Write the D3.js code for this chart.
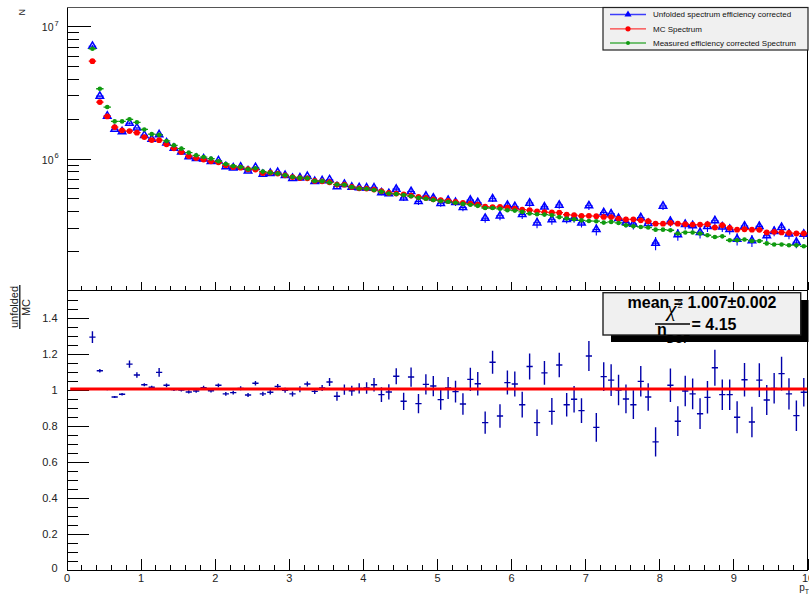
<!DOCTYPE html>
<html>
<head>
<meta charset="utf-8">
<script src="https://cdn.jsdelivr.net/npm/d3@7"></script>
<style>
  html, body { margin: 0; padding: 0; background: #fff; }
  svg { display: block; font-family: "Liberation Sans", Arial, Helvetica, sans-serif; }
</style>
</head>
<body>
<svg id="chart" width="809" height="597"></svg>
<script>
// ---- histogram binning (pT) ----
const binLow = 0.3;
const binWidth = 0.1;
const binCount = 97;

// ---- spectra (counts per bin) ----
const mcSpectrum = [
  5.445e6, 2.672e6, 2.084e6, 1.731e6, 1.635e6, 1.615e6, 1.571e6,
  1.455e6, 1.381e6, 1.378e6, 1.282e6, 1.196e6, 1.121e6, 1.046e6, 1.010e6, 9.83e5, 9.54e5,
  9.38e5, 8.90e5, 8.64e5, 8.55e5, 8.31e5, 8.26e5, 7.79e5, 7.84e5, 7.71e5, 7.48e5,
  7.26e5, 7.13e5, 7.10e5, 6.78e5, 6.74e5, 6.63e5, 6.37e5, 6.36e5, 6.11e5, 5.97e5,
  5.94e5, 5.84e5, 5.67e5, 5.50e5, 5.45e5, 5.38e5, 5.26e5, 5.13e5, 5.05e5, 4.93e5,
  4.85e5, 4.79e5, 4.71e5, 4.63e5, 4.58e5, 4.50e5, 4.33e5, 4.31e5, 4.32e5, 4.27e5,
  4.20e5, 4.12e5, 4.08e5, 4.00e5, 3.94e5, 3.92e5, 3.91e5, 3.78e5, 3.74e5, 3.69e5,
  3.70e5, 3.68e5, 3.63e5, 3.62e5, 3.53e5, 3.47e5, 3.48e5, 3.42e5, 3.37e5, 3.23e5,
  3.23e5, 3.27e5, 3.23e5, 3.20e5, 3.18e5, 3.18e5, 3.20e5, 3.02e5, 3.14e5, 3.00e5,
  2.91e5, 2.93e5, 2.91e5, 2.90e5, 2.77e5, 2.80e5, 2.77e5, 2.75e5, 2.72e5, 2.72e5
];

const measuredSpectrum = [
  6.75e6, 3.37e6, 2.45e6, 1.91e6, 1.91e6, 1.98e6, 1.88e6,
  1.66e6, 1.53e6, 1.51e6, 1.36e6, 1.26e6, 1.19e6, 1.110e6, 1.059e6, 1.028e6, 1.000e6,
  9.55e5, 9.11e5, 8.80e5, 8.64e5, 8.31e5, 8.45e5, 7.98e5, 7.84e5, 7.71e5, 7.48e5,
  7.26e5, 7.15e5, 7.10e5, 6.78e5, 6.76e5, 6.60e5, 6.37e5, 6.34e5, 6.10e5, 5.95e5,
  5.92e5, 5.80e5, 5.63e5, 5.46e5, 5.40e5, 5.32e5, 5.20e5, 5.07e5, 4.98e5, 4.87e5,
  4.79e5, 4.72e5, 4.64e5, 4.55e5, 4.49e5, 4.40e5, 4.24e5, 4.24e5, 4.18e5, 4.08e5,
  4.05e5, 3.96e5, 3.85e5, 3.80e5, 3.78e5, 3.74e5, 3.62e5, 3.53e5, 3.48e5, 3.42e5,
  3.38e5, 3.37e5, 3.29e5, 3.33e5, 3.27e5, 3.14e5, 3.09e5, 3.05e5, 3.02e5, 2.91e5,
  2.91e5, 2.88e5, 2.72e5, 2.77e5, 2.77e5, 2.72e5, 2.64e5, 2.56e5, 2.59e5, 2.42e5,
  2.42e5, 2.45e5, 2.39e5, 2.39e5, 2.29e5, 2.25e5, 2.25e5, 2.22e5, 2.22e5, 2.18e5
];

const unfoldedSpectrum = [
  7.057e6, 2.963e6, 2.097e6, 1.667e6, 1.599e6, 1.851e6, 1.705e6,
  1.500e6, 1.404e6, 1.519e6, 1.318e6, 1.201e6, 1.123e6, 1.037e6, 1.006e6, 9.98e5, 9.52e5,
  9.64e5, 8.72e5, 8.53e5, 8.64e5, 8.09e5, 8.58e5, 7.63e5, 7.75e5, 7.88e5, 7.48e5,
  7.11e5, 7.17e5, 7.35e5, 6.74e5, 6.83e5, 6.93e5, 6.16e5, 6.40e5, 6.10e5, 6.04e5,
  6.02e5, 6.02e5, 5.53e5, 5.45e5, 5.88e5, 5.05e5, 5.65e5, 4.75e5, 5.22e5, 5.05e5,
  4.60e5, 4.85e5, 4.68e5, 4.28e5, 4.86e5, 4.67e5, 3.55e5, 4.98e5, 3.70e5, 4.45e5,
  4.35e5, 3.79e5, 4.62e5, 3.28e5, 4.32e5, 3.46e5, 4.46e5, 3.48e5, 3.55e5, 3.27e5,
  4.41e5, 2.92e5, 3.91e5, 3.83e5, 3.54e5, 3.30e5, 3.20e5, 3.59e5, 3.25e5, 2.30e5,
  4.39e5, 3.36e5, 2.67e5, 3.19e5, 3.12e5, 2.77e5, 3.08e5, 3.40e5, 3.06e5, 2.93e5,
  2.47e5, 3.10e5, 2.40e5, 3.08e5, 2.62e5, 2.83e5, 3.03e5, 2.70e5, 2.34e5, 2.69e5
];

// relative uncertainty of the unfolded spectrum
const unfoldedRelErr = [
  0.025, 0.009, 0.006, 0.006, 0.007, 0.018, 0.014,
  0.008, 0.008, 0.022, 0.010, 0.008, 0.008, 0.009, 0.009, 0.010, 0.010,
  0.010, 0.011, 0.011, 0.011, 0.012, 0.012, 0.012, 0.013, 0.013, 0.014,
  0.014, 0.016, 0.013, 0.015, 0.017, 0.021, 0.026, 0.028, 0.028, 0.028,
  0.032, 0.036, 0.042, 0.043, 0.041, 0.051, 0.050, 0.058, 0.054, 0.055,
  0.059, 0.060, 0.061, 0.065, 0.061, 0.063, 0.076, 0.055, 0.076, 0.064,
  0.067, 0.078, 0.064, 0.090, 0.060, 0.084, 0.060, 0.071, 0.078, 0.078,
  0.070, 0.101, 0.074, 0.084, 0.085, 0.084, 0.087, 0.081, 0.079, 0.114,
  0.066, 0.091, 0.100, 0.085, 0.087, 0.098, 0.094, 0.089, 0.087, 0.087,
  0.105, 0.088, 0.103, 0.089, 0.088, 0.084, 0.086, 0.089, 0.099, 0.080
];

// unfolded / MC
const ratioValues = [
  1.296, 1.109, 1.006, 0.963, 0.978, 1.146, 1.085,
  1.031, 1.017, 1.100, 1.028, 1.004, 1.002, 0.991, 0.996, 1.015, 0.998,
  1.028, 0.980, 0.987, 1.011, 0.974, 1.039, 0.980, 0.989, 1.022, 1.000,
  0.980, 1.006, 1.035, 0.994, 1.013, 1.046, 0.967, 1.004, 0.998, 1.011,
  1.013, 1.031, 0.976, 0.991, 1.078, 0.939, 1.074, 0.926, 1.033, 1.024,
  0.948, 1.013, 0.993, 0.924, 1.061, 1.037, 0.820, 1.156, 0.857, 1.043,
  1.035, 0.920, 1.133, 0.820, 1.097, 0.883, 1.141, 0.920, 0.950, 0.887,
  1.191, 0.794, 1.076, 1.057, 1.002, 0.952, 0.920, 1.050, 0.963, 0.713,
  1.360, 1.028, 0.828, 0.996, 0.980, 0.870, 0.961, 1.126, 0.976, 0.976,
  0.850, 1.059, 0.824, 1.057, 0.946, 1.011, 1.093, 0.980, 0.859, 0.989
];

// constant fit to the ratio
const fitMean = 1.007;
const fitMeanErr = 0.002;
const chi2PerNdf = 4.15;

// axis ticks / labels
const xTickValues = [0, 1, 2, 3, 4, 5, 6, 7, 8, 9, 10];
const ratioTickValues = [0, 0.2, 0.4, 0.6, 0.8, 1, 1.2, 1.4];
const decadeTicks = [1e6, 1e7];
const decadeExponents = ["6", "7"];

const legendLabels = [
  "Unfolded spectrum efficiency corrected",
  "MC Spectrum",
  "Measured efficiency corrected Spectrum"
];

// ---- colours ----
const cBlue = "#0000ff";
const cRed = "#ff0000";
const cGreen = "#109a10";
const cRatio = "#0000aa";

// ---- layout ----
const svg = d3.select("#chart");
const X0 = 66.5, X1 = 807.5;
const TOP = { y0: 7.5, y1: 289.5 };
const BOT = { y0: 290.5, y1: 570 };

const bins = d3.range(binCount).map(i => binLow + binWidth * (i + 0.5));

const x = d3.scaleLinear().domain([0, 10]).range([X0, X1]);
const yTop = d3.scaleLog().domain([1.028e5, 1.383e7]).range([TOP.y1, TOP.y0]);
const yRat = d3.scaleLinear().domain([0, 1.5556]).range([BOT.y1, BOT.y0]);

const axisG = svg.append("g").attr("shape-rendering", "crispEdges");

// frame borders
axisG.append("line").attr("x1", X0).attr("x2", X1).attr("y1", TOP.y0).attr("y2", TOP.y0)
  .attr("stroke", "#555").attr("stroke-width", 1.3);
axisG.append("line").attr("x1", X1).attr("x2", X1).attr("y1", TOP.y0).attr("y2", TOP.y1)
  .attr("stroke", "#000");
axisG.append("line").attr("x1", X0).attr("x2", X1).attr("y1", BOT.y0).attr("y2", BOT.y0)
  .attr("stroke", "#000");
axisG.append("line").attr("x1", X1).attr("x2", X1).attr("y1", BOT.y0).attr("y2", BOT.y1)
  .attr("stroke", "#000");

function styleAxis(g) {
  g.selectAll("path.domain").attr("stroke", "#000");
  g.selectAll(".tick line").attr("stroke", "#000");
  g.selectAll(".tick text").attr("fill", "#222").attr("font-family", null);
}

const xMinorTicks = d3.range(0, 10.0001, 0.2).filter(v => Math.abs(v - Math.round(v)) > 1e-6);

// ---- top panel axes ----
axisG.append("g").attr("transform", `translate(0,${TOP.y1})`)
  .call(d3.axisBottom(x).tickValues(xMinorTicks).tickSizeInner(-4).tickSizeOuter(0).tickFormat(""))
  .call(styleAxis);
axisG.append("g").attr("transform", `translate(0,${TOP.y1})`)
  .call(d3.axisBottom(x).tickValues(xTickValues).tickSizeInner(-8).tickSizeOuter(0).tickFormat(""))
  .call(styleAxis);

const logMinor = [];
[1e5, 1e6].forEach(d => { for (let k = 2; k <= 9; k++) logMinor.push(k * d); });
axisG.append("g").attr("transform", `translate(${X0},0)`)
  .call(d3.axisLeft(yTop).tickValues(logMinor.filter(v => v > 1.028e5)).tickSizeInner(-12).tickSizeOuter(0).tickFormat(""))
  .call(styleAxis);
axisG.append("g").attr("transform", `translate(${X0},0)`)
  .call(d3.axisLeft(yTop).tickValues(decadeTicks).tickSizeInner(-24).tickSizeOuter(0).tickFormat(""))
  .call(styleAxis);

// decade labels 10^n
decadeTicks.forEach((v, i) => {
  svg.append("text")
    .attr("x", 53.5).attr("y", yTop(v) + 5)
    .attr("font-size", 10.5).attr("fill", "#222").attr("text-anchor", "end")
    .text("10");
  svg.append("text")
    .attr("x", 54.5).attr("y", yTop(v) - 0.5)
    .attr("font-size", 7.5).attr("fill", "#222")
    .text(decadeExponents[i]);
});

// y title "N"
svg.append("text")
  .attr("transform", `translate(25,9) rotate(-90)`)
  .attr("text-anchor", "end").attr("font-size", 9).attr("fill", "#222")
  .text("N");

// ---- bottom panel axes ----
axisG.append("g").attr("transform", `translate(0,${BOT.y1})`)
  .call(d3.axisBottom(x).tickValues(xMinorTicks).tickSizeInner(-5.5).tickSizeOuter(0).tickFormat(""))
  .call(styleAxis);
const xAx = axisG.append("g").attr("transform", `translate(0,${BOT.y1})`)
  .call(d3.axisBottom(x).tickValues(xTickValues).tickSizeInner(-11).tickSizeOuter(0)
    .tickPadding(4).tickFormat(d3.format("d")))
  .call(styleAxis);
xAx.selectAll(".tick text").attr("font-size", 11);

const ratioMinor = d3.range(0.05, 1.5001, 0.05)
  .filter(v => Math.abs(v * 5 - Math.round(v * 5)) > 1e-6);
axisG.append("g").attr("transform", `translate(${X0},0)`)
  .call(d3.axisLeft(yRat).tickValues(ratioMinor).tickSizeInner(-11).tickSizeOuter(0).tickFormat(""))
  .call(styleAxis);
const yAx = axisG.append("g").attr("transform", `translate(${X0},0)`)
  .call(d3.axisLeft(yRat).tickValues(ratioTickValues).tickSizeInner(-22).tickSizeOuter(0)
    .tickPadding(9).tickFormat(d3.format("~g")))
  .call(styleAxis);
yAx.selectAll(".tick text").attr("font-size", 11);
yAx.selectAll(".tick").filter(d => d === 0).select("text").attr("dy", "0.1em");

// x title p_T
const pt = svg.append("text").attr("x", 809).attr("y", 591).attr("text-anchor", "end")
  .attr("font-size", 10).attr("fill", "#222");
pt.append("tspan").text("p");
pt.append("tspan").attr("font-size", 7).attr("dy", 3).text("T");

// ratio y title: unfolded / MC
svg.append("text").attr("transform", "translate(18,307) rotate(-90)")
  .attr("text-anchor", "middle").attr("font-size", 11).attr("fill", "#222").text("unfolded");
svg.append("line").attr("x1", 19.8).attr("x2", 19.8).attr("y1", 285).attr("y2", 329)
  .attr("stroke", "#111").attr("stroke-width", 1.3);
svg.append("text").attr("transform", "translate(30,307.5) rotate(-90)")
  .attr("text-anchor", "middle").attr("font-size", 11).attr("fill", "#222").text("MC");

// ---- top panel data ----
svg.append("clipPath").attr("id", "topclip").append("rect")
  .attr("x", X0).attr("y", TOP.y0).attr("width", X1 - X0).attr("height", TOP.y1 - TOP.y0);
const gTop = svg.append("g").attr("clip-path", "url(#topclip)");

const hw = binWidth / 2;

// unfolded (open triangles with errors)
const gU = gTop.append("g");
bins.forEach((c, i) => {
  const v = unfoldedSpectrum[i], e = v * unfoldedRelErr[i];
  gU.append("line").attr("x1", x(c - hw)).attr("x2", x(c + hw))
    .attr("y1", yTop(v)).attr("y2", yTop(v)).attr("stroke", cBlue).attr("stroke-width", 1.1);
  gU.append("line").attr("x1", x(c)).attr("x2", x(c))
    .attr("y1", yTop(v - e)).attr("y2", yTop(v + e)).attr("stroke", cBlue).attr("stroke-width", 1.1);
});
gU.selectAll("path").data(bins).join("path")
  .attr("transform", (c, i) => `translate(${x(c)},${yTop(unfoldedSpectrum[i])})`)
  .attr("d", d3.symbol(d3.symbolTriangle).size(24)())
  .attr("fill", "none").attr("stroke", cBlue).attr("stroke-width", 1.5);

// MC spectrum
const gM = gTop.append("g");
bins.forEach((c, i) => {
  const v = mcSpectrum[i];
  gM.append("line").attr("x1", x(c - hw)).attr("x2", x(c + hw))
    .attr("y1", yTop(v)).attr("y2", yTop(v)).attr("stroke", cRed).attr("stroke-width", 1.3);
});
gM.selectAll("circle").data(bins).join("circle")
  .attr("cx", c => x(c)).attr("cy", (c, i) => yTop(mcSpectrum[i]))
  .attr("r", 2.9).attr("fill", cRed);

// measured spectrum
const gG = gTop.append("g");
bins.forEach((c, i) => {
  const v = measuredSpectrum[i];
  gG.append("line").attr("x1", x(c - hw)).attr("x2", x(c + hw))
    .attr("y1", yTop(v)).attr("y2", yTop(v)).attr("stroke", cGreen).attr("stroke-width", 1.3);
});
gG.selectAll("circle").data(bins).join("circle")
  .attr("cx", c => x(c)).attr("cy", (c, i) => yTop(measuredSpectrum[i]))
  .attr("r", 2.3).attr("fill", cGreen);

// ---- legend ----
const lg = svg.append("g");
lg.append("rect").attr("x", 603).attr("y", 7.5).attr("width", 205).attr("height", 42.5)
  .attr("fill", "#f0f0f0").attr("stroke", "#222").attr("stroke-width", 1.2);
const legendColors = [cBlue, cRed, cGreen];
const rowY = [14.5, 28.8, 43];
legendLabels.forEach((lab, i) => {
  lg.append("line").attr("x1", 610).attr("x2", 646).attr("y1", rowY[i]).attr("y2", rowY[i])
    .attr("stroke", legendColors[i]).attr("stroke-width", 1.3).attr("stroke-opacity", 0.75);
  if (i === 0) {
    lg.append("path").attr("transform", `translate(628,${rowY[i]})`)
      .attr("d", d3.symbol(d3.symbolTriangle).size(22)()).attr("fill", cBlue);
  } else {
    lg.append("circle").attr("cx", 628).attr("cy", rowY[i]).attr("r", i === 1 ? 2.6 : 2)
      .attr("fill", legendColors[i]);
  }
  lg.append("text").attr("x", 653).attr("y", rowY[i] + 2.8)
    .attr("font-size", 8).attr("fill", "#111").text(lab);
});

// ---- ratio panel ----
svg.append("clipPath").attr("id", "botclip").append("rect")
  .attr("x", X0).attr("y", BOT.y0).attr("width", X1 - X0).attr("height", BOT.y1 - BOT.y0);
const gR = svg.append("g").attr("clip-path", "url(#botclip)");
const rhw = 0.042;
bins.forEach((c, i) => {
  const r = ratioValues[i], e = r * unfoldedRelErr[i];
  gR.append("line").attr("x1", x(c - rhw)).attr("x2", x(c + rhw))
    .attr("y1", yRat(r)).attr("y2", yRat(r)).attr("stroke", cRatio).attr("stroke-width", 1.4);
  gR.append("line").attr("x1", x(c)).attr("x2", x(c))
    .attr("y1", yRat(r - e)).attr("y2", yRat(r + e)).attr("stroke", cRatio).attr("stroke-width", 1.4);
});

// fitted constant
gR.append("line").attr("x1", x(0.05)).attr("x2", X1)
  .attr("y1", yRat(fitMean)).attr("y2", yRat(fitMean))
  .attr("stroke", cRed).attr("stroke-width", 3);

// ---- fit result box ----
const sb = svg.append("g");
sb.append("rect").attr("x", 611).attr("y", 300).attr("width", 197.5).attr("height", 42)
  .attr("fill", "#000");
sb.append("rect").attr("x", 603).attr("y", 292.7).attr("width", 197.7).attr("height", 42.3)
  .attr("fill", "#f0f0f0").attr("stroke", "#222").attr("stroke-width", 1.4);

sb.append("text").attr("x", 702).attr("y", 308).attr("text-anchor", "middle")
  .attr("font-size", 16).attr("font-weight", "bold").attr("fill", "#000")
  .text(`mean = ${fitMean.toFixed(3)}\u00B1${fitMeanErr.toFixed(3)}`);

// chi2 / ndf fraction
sb.append("text").attr("x", 671.5).attr("y", 316)
  .attr("text-anchor", "middle")
  .attr("font-family", "'Liberation Serif', 'Times New Roman', serif").attr("font-style", "italic")
  .attr("font-size", 21).attr("fill", "#000").text("\u03C7");
sb.append("text").attr("x", 677.5).attr("y", 307.5)
  .attr("font-family", "'Liberation Serif', 'Times New Roman', serif")
  .attr("font-size", 10).attr("fill", "#000").text("2");
sb.append("line").attr("x1", 655).attr("x2", 690).attr("y1", 324).attr("y2", 324)
  .attr("stroke", "#000").attr("stroke-width", 1.6);
const nd = sb.append("text").attr("x", 657).attr("y", 335)
  .attr("font-size", 16).attr("font-weight", "bold").attr("fill", "#000");
nd.append("tspan").text("n");
nd.append("tspan").attr("font-size", 11).attr("dy", 8).text("DOF");
sb.append("text").attr("x", 691.5).attr("y", 330)
  .attr("font-size", 16).attr("font-weight", "bold").attr("fill", "#000")
  .text(`= ${chi2PerNdf.toFixed(2)}`);
</script>
</body>
</html>
